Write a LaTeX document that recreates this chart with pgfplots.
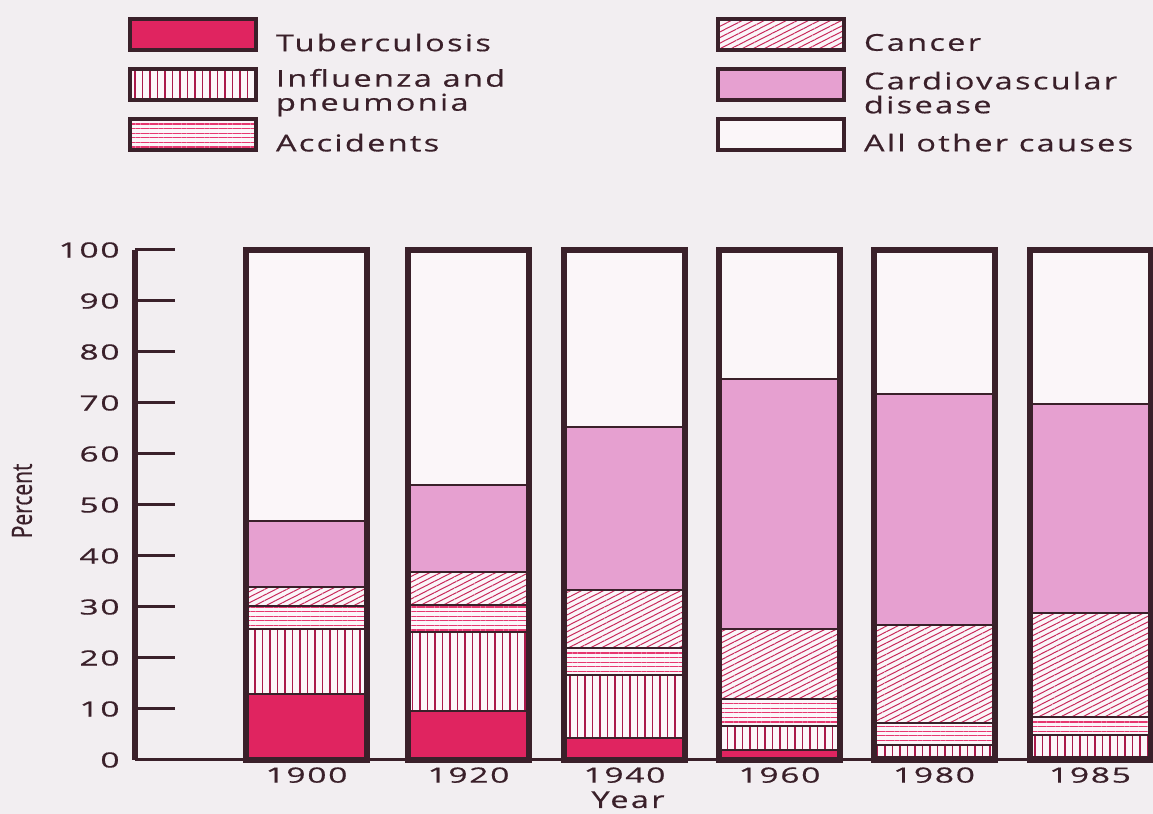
\documentclass[border=0pt]{standalone}
\usepackage{fontspec}
\usepackage{pgfplots}
\pgfplotsset{compat=1.18}
\usetikzlibrary{patterns.meta}
\setmainfont{Open Sans}
\newfontfamily\legfont{Open Sans}[FakeStretch=1.4,LetterSpace=10,FakeBold=0.5]
\newfontfamily\tickfont{Open Sans}[FakeStretch=1.6,LetterSpace=8,FakeBold=0.6]
\newfontfamily\pctfont{Open Sans}[FakeStretch=0.75,FakeBold=0.5]
\definecolor{pagebg}{RGB}{242,238,241}
\definecolor{dark}{RGB}{58,32,42}
\definecolor{tubc}{RGB}{224,36,96}
\definecolor{cardc}{RGB}{230,160,208}
\definecolor{barbg}{RGB}{251,246,249}
\definecolor{infc}{RGB}{170,25,75}
\definecolor{accc}{RGB}{230,55,112}
\definecolor{canc}{RGB}{200,40,90}
\newcommand\lt[1]{\parbox[c][24pt][c]{220pt}{\raggedright\legfont\fontsize{11.6pt}{12pt}\selectfont #1}}
\tikzset{
 tubS/.style={fill=tubc, draw=dark},
 infS/.style={draw=dark, preaction={fill=barbg}, preaction={pattern={Lines[angle=90,distance=3.75pt,line width=0.8pt]}, pattern color=infc}},
 accS/.style={draw=dark, preaction={fill=barbg}, preaction={pattern={Lines[angle=0,distance=2.3pt,line width=0.6pt]}, pattern color=accc}},
 canS/.style={draw=dark, preaction={fill=barbg}, preaction={pattern={Lines[angle=27,distance=2.5pt,line width=0.5pt]}, pattern color=canc}},
 cardS/.style={fill=cardc, draw=dark},
 othS/.style={fill=barbg, draw=dark},
}
\pgfplotsset{
 common/.style={width=509pt,height=255pt,scale only axis,
   xmin=135,xmax=1153,ymin=0,ymax=100,enlargelimits=false,clip=false}
}
\begin{document}
\begin{tikzpicture}
\fill[pagebg] (-67.5pt,-27pt) rectangle (509pt,380pt);
\begin{axis}[common, ybar stacked, bar width=121,
  axis x line=bottom, axis y line=left,
  x axis line style={-, line width=1.5pt, draw=dark},
  y axis line style={-, line width=3pt, draw=dark},
  xtick={306.5,468.5,624.5,779.5,934,1090},
  xticklabels={1900,1920,1940,1960,1980,1985},
  x tick style={draw=none},
  ytick={0,10,...,100},
  y tick style={line width=1.5pt, draw=dark},
  tick align=inside, major tick length=20pt,
  /pgf/number format/assume math mode=true,
  tick label style={font=\tickfont\fontsize{10.5pt}{10.5pt}\selectfont, text=dark},
  yticklabel style={inner sep=0pt, xshift=-7.5pt},
  xticklabel style={inner sep=0pt, yshift=-3.5pt},
  xlabel={Year},
  xlabel style={at={(axis description cs:0.4843,0)}, anchor=north, inner sep=0pt, yshift=-15.5pt, font=\legfont\fontsize{11.6pt}{12pt}\selectfont, text=dark},
  ylabel={Percent},
  ylabel style={at={(axis description cs:-0.111,0.508)}, anchor=center, font=\pctfont\fontsize{14pt}{14pt}\selectfont, text=dark},
]
\addplot[tubS, line width=1pt] coordinates {(306.5,12.9) (468.5,9.7) (624.5,4.4) (779.5,2.0) (934,0.5) (1090,0.5)};
\addplot[infS, line width=1pt] coordinates {(306.5,12.8) (468.5,15.3) (624.5,12.2) (779.5,4.7) (934,2.4) (1090,4.4)};
\addplot[accS, line width=1pt] coordinates {(306.5,4.4) (468.5,5.3) (624.5,5.3) (779.5,5.2) (934,4.3) (1090,3.6)};
\addplot[canS, line width=1pt] coordinates {(306.5,3.9) (468.5,6.6) (624.5,11.4) (779.5,13.7) (934,19.3) (1090,20.3)};
\addplot[cardS, line width=1pt] coordinates {(306.5,12.9) (468.5,17.1) (624.5,31.9) (779.5,49.1) (934,45.3) (1090,41.1)};
\addplot[othS, line width=1pt] coordinates {(306.5,53.1) (468.5,46.0) (624.5,34.8) (779.5,25.3) (934,28.2) (1090,30.1)};
\end{axis}
\begin{axis}[common, hide axis,
  legend columns=2, legend cell align=left,
  legend image code/.code={\draw[#1, line width=2pt, draw=dark] (0pt,-7.75pt) rectangle (63pt,7.75pt);},
  legend style={draw=none, fill=none, inner sep=0pt, outer sep=0pt,
    at={(axis description cs:0,1)}, anchor=north west, xshift=-3.5pt, yshift=116.5pt,
    column sep=0pt, row sep=7.55pt,
    /tikz/every odd column/.append style={column sep=9pt},
    nodes={inner sep=0pt, text=dark}},
]
\addplot[ybar, bar width=121, draw=dark, line width=3pt, fill=none, forget plot]
  coordinates {(306.5,100) (468.5,100) (624.5,100) (779.5,100) (934,100) (1090,100)};
\addlegendimage{tubS}\addlegendentry{\lt{Tuberculosis}}
\addlegendimage{canS}\addlegendentry{\lt{Cancer}}
\addlegendimage{infS}\addlegendentry{\lt{Influenza and\\pneumonia}}
\addlegendimage{cardS}\addlegendentry{\lt{Cardiovascular\\disease}}
\addlegendimage{accS}\addlegendentry{\lt{Accidents}}
\addlegendimage{othS}\addlegendentry{\lt{All other causes}}
\end{axis}
\pgfresetboundingbox
\path[use as bounding box] (-67.5pt,-27pt) rectangle (509pt,380pt);
\end{tikzpicture}
\end{document}
